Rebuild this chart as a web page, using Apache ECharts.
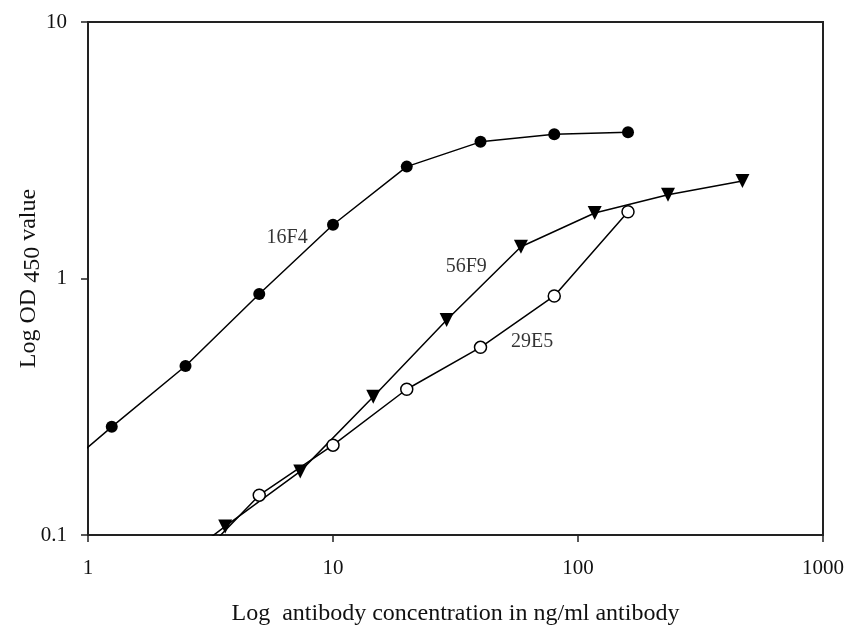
<!DOCTYPE html>
<html>
<head>
<meta charset="utf-8">
<script src="https://cdn.jsdelivr.net/npm/echarts@6/dist/echarts.min.js"></script>
<style>html,body{margin:0;padding:0;background:#fff}#c{width:850px;height:628px}</style>
</head>
<body>
<div id="c"></div>
<script>
// Data (x: ng/ml antibody, y: OD450)
const x16F4 = [0.625, 1.25, 2.5, 5, 10, 20, 40, 80, 160];
const y16F4 = [0.15, 0.264, 0.456, 0.87, 1.62, 2.73, 3.41, 3.65, 3.72];
const x56F9 = [1.83, 3.63, 7.35, 14.6, 29.1, 58.5, 117, 233, 469];
const y56F9 = [0.066, 0.108, 0.177, 0.346, 0.689, 1.33, 1.80, 2.12, 2.40];
const x29E5 = [2.5, 5, 10, 20, 40, 80, 160];
const y29E5 = [0.072, 0.143, 0.224, 0.370, 0.539, 0.855, 1.82];
const xTicks = [1, 10, 100, 1000];
const yTicks = [0.1, 1, 10];
const labelNames = ['16F4', '56F9', '29E5'];
const labelX = [6.5, 35, 65];
const labelY = [1.445, 1.11, 0.565];

const pairs = (xs, ys) => xs.map((v, i) => [v, ys[i]]);
const serif = 'Liberation Serif, Times New Roman, serif';

const chart = echarts.init(document.getElementById('c'), null, {renderer: 'canvas'});
chart.setOption({
  animation: false,
  backgroundColor: '#fff',
  grid: {left: 88, right: 27, top: 22, bottom: 93, show: true, borderColor: '#222', borderWidth: 2,
    backgroundColor: 'transparent', containLabel: false, outerBoundsMode: 'none'},
  xAxis: {
    type: 'log', logBase: 10, min: xTicks[0], max: xTicks[xTicks.length - 1],
    name: 'Log  antibody concentration in ng/ml antibody',
    nameLocation: 'middle', nameGap: 67, nameMoveOverlap: false,
    nameTextStyle: {fontFamily: serif, fontSize: 24, color: '#111'},
    axisLine: {lineStyle: {color: '#222', width: 2}},
    axisTick: {show: true, length: 7, lineStyle: {color: '#222', width: 1.5}},
    axisLabel: {fontFamily: serif, fontSize: 21, color: '#111', margin: 23, formatter: v => String(+v.toPrecision(3))},
    splitLine: {show: false}, minorTick: {show: false}
  },
  yAxis: {
    type: 'log', logBase: 10, min: yTicks[0], max: yTicks[yTicks.length - 1],
    name: '{a|Log OD }{b|450}{a| value}',
    nameLocation: 'middle', nameGap: 47, nameRotate: 90, nameMoveOverlap: false,
    nameTextStyle: {
      fontFamily: serif, fontSize: 24, color: '#111',
      rich: {
        a: {fontFamily: serif, fontSize: 24, color: '#111', lineHeight: 24, verticalAlign: 'top'},
        b: {fontFamily: serif, fontSize: 24, color: '#111', lineHeight: 24, verticalAlign: 'top', padding: [4, 0, 0, 0]}
      }
    },
    axisLine: {lineStyle: {color: '#222', width: 2}},
    axisTick: {show: true, length: 7, lineStyle: {color: '#222', width: 1.5}},
    axisLabel: {fontFamily: serif, fontSize: 21, color: '#111', margin: 21, formatter: v => String(+v.toPrecision(3))},
    splitLine: {show: false}, minorTick: {show: false}
  },
  series: [
    {name: '16F4', type: 'line', data: pairs(x16F4, y16F4), clip: true,
      symbol: 'circle', symbolSize: 12, lineStyle: {color: '#000', width: 1.5},
      itemStyle: {color: '#000'}},
    {name: '56F9', type: 'line', data: pairs(x56F9, y56F9), clip: true,
      symbol: 'triangle', symbolRotate: 180, symbolSize: 14, lineStyle: {color: '#000', width: 1.5},
      itemStyle: {color: '#000'}},
    {name: '29E5', type: 'line', data: pairs(x29E5, y29E5), clip: true,
      symbol: 'circle', symbolSize: 12, lineStyle: {color: '#000', width: 1.5},
      itemStyle: {color: '#fff', borderColor: '#000', borderWidth: 1.5}, z: 3},
    {name: 'labels', type: 'scatter', symbolSize: 0, silent: true,
      data: labelNames.map((n, i) => ({name: n, value: [labelX[i], labelY[i]]})),
      label: {show: true, position: 'inside', formatter: p => p.name, fontFamily: serif, fontSize: 20, color: '#000'}}
  ]
});
</script>
</body>
</html>
